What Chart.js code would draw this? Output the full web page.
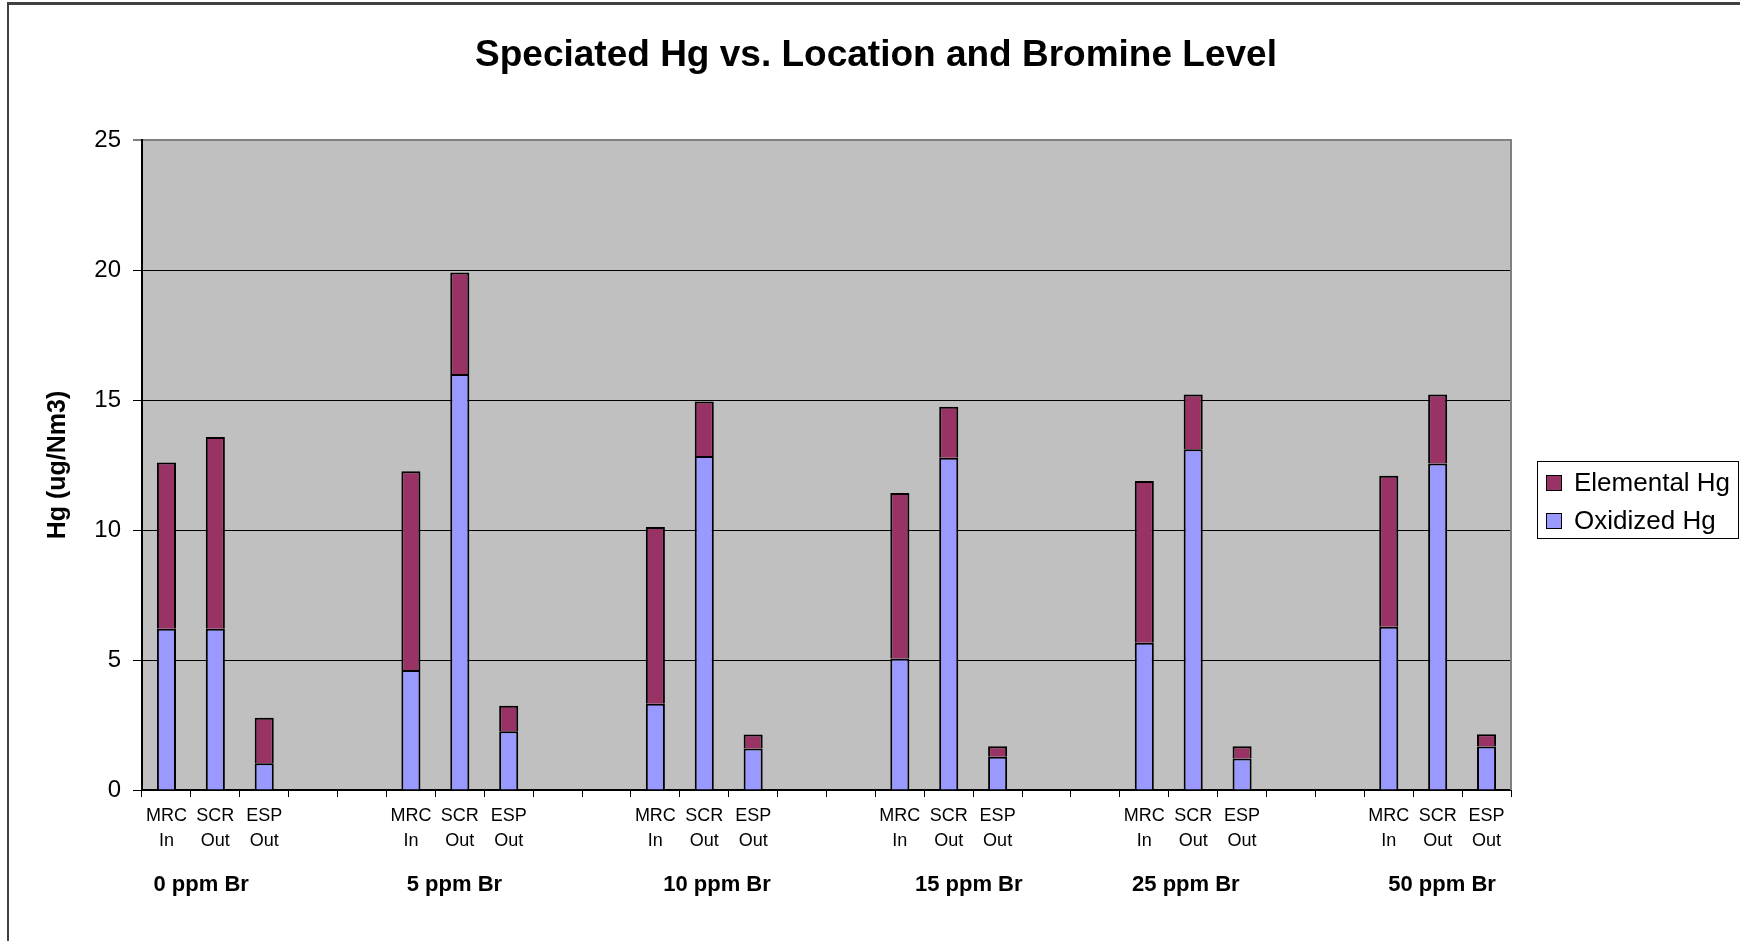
<!DOCTYPE html>
<html><head><meta charset="utf-8">
<script src="https://cdn.jsdelivr.net/npm/chart.js@4.4.0/dist/chart.umd.min.js"></script>
<style>html,body{margin:0;padding:0;background:#fff;} canvas{display:block;}</style>
</head><body>
<canvas id="c" width="1740" height="941"></canvas>
<script>
const chartTitle = "Speciated Hg vs. Location and Bromine Level";
const yAxisTitle = "Hg (ug/Nm3)";
const bromineLevels = ["0 ppm Br", "5 ppm Br", "10 ppm Br", "15 ppm Br", "25 ppm Br", "50 ppm Br"];
const locations = [["MRC", "In"], ["SCR", "Out"], ["ESP", "Out"]];
const seriesNames = ["Elemental Hg", "Oxidized Hg"];
const yTicks = [0, 5, 10, 15, 20, 25];
// values per bromine level: MRC In, SCR Out, ESP Out
const oxidizedHg = [6.2, 6.2, 1.03,  4.62, 16.0, 2.26,  3.32, 12.85, 1.60,  5.06, 12.78, 1.28,  5.66, 13.11, 1.21,  6.28, 12.56, 1.67];
const elementalHg = [6.4, 7.38, 1.75,  7.64, 3.9, 0.98,  6.8, 2.09, 0.53,  6.36, 1.96, 0.40,  6.22, 2.10, 0.47,  5.81, 2.65, 0.47];

const GAP = 2;
const labels = [], oxData = [], elData = [];
bromineLevels.forEach((lvl, g) => {
  locations.forEach((loc, i) => {
    labels.push(loc);
    oxData.push(oxidizedHg[g * 3 + i]);
    elData.push(elementalHg[g * 3 + i]);
  });
  if (g < bromineLevels.length - 1) {
    for (let k = 0; k < GAP; k++) { labels.push(""); oxData.push(null); elData.push(null); }
  }
});

const FONT = "'Liberation Sans', Arial, Helvetica, sans-serif";
const groupLabelPos = [0.71, 5.89, 11.26, 16.41, 20.85, 26.09];

const decor = {
  id: 'decor',
  beforeDraw(chart) {
    const { ctx, chartArea: a } = chart;
    ctx.save();
    ctx.fillStyle = '#fff';
    ctx.fillRect(0, 0, chart.width, chart.height);
    ctx.fillStyle = '#C0C0C0';
    ctx.fillRect(a.left, a.top, a.right - a.left, a.bottom - a.top);
    ctx.restore();
  },
  afterDraw(chart) {
    const { ctx, chartArea: a } = chart;
    const xs = chart.scales.x;
    ctx.save();
    ctx.strokeStyle = '#808080';
    ctx.lineWidth = 2;
    ctx.beginPath();
    ctx.moveTo(a.right, a.top - 1);
    ctx.lineTo(a.right, a.bottom);
    ctx.stroke();

    ctx.fillStyle = '#000';
    ctx.textAlign = 'center';
    ctx.textBaseline = 'middle';
    ctx.font = `bold 37px ${FONT}`;
    ctx.fillText(chartTitle, 876, 56);

    ctx.font = `bold 22px ${FONT}`;
    bromineLevels.forEach((t, i) => ctx.fillText(t, xs.getPixelForValue(groupLabelPos[i]), 885));

    // legend
    ctx.strokeStyle = '#000';
    ctx.lineWidth = 1;
    ctx.strokeRect(1537.5, 461.5, 201, 77);
    const dsByName = {};
    chart.data.datasets.forEach(d => dsByName[d.label] = d);
    ctx.textAlign = 'left';
    ctx.font = `26px ${FONT}`;
    seriesNames.forEach((n, i) => {
      const cy = 483 + i * 38;
      ctx.fillStyle = dsByName[n].backgroundColor;
      ctx.fillRect(1546, cy - 8, 16, 16);
      ctx.strokeRect(1546.5, cy - 7.5, 15, 15);
      ctx.fillStyle = '#000';
      ctx.fillText(n, 1574, cy + 1);
    });

    // outer border
    ctx.fillStyle = '#404040';
    ctx.fillRect(7, 2, chart.width - 7, 3);
    ctx.fillRect(7, 2, 2, chart.height - 2);
    ctx.restore();
  }
};

new Chart(document.getElementById('c'), {
  type: 'bar',
  data: {
    labels: labels,
    datasets: [
      { label: seriesNames[1], data: oxData, backgroundColor: '#9999FF', borderColor: '#000', borderWidth: 2, stack: 's' },
      { label: seriesNames[0], data: elData, backgroundColor: '#993366', borderColor: '#000', borderWidth: 2, stack: 's' }
    ]
  },
  options: {
    responsive: false,
    animation: false,
    devicePixelRatio: 1,
    categoryPercentage: 1,
    barPercentage: 0.39,
    layout: { padding: { top: 140, right: 229, left: 0, bottom: 0 } },
    plugins: { legend: { display: false }, tooltip: { enabled: false }, title: { display: false } },
    scales: {
      x: {
        stacked: true,
        ticks: { autoSkip: false, maxRotation: 0, minRotation: 0, font: { family: FONT, size: 18, lineHeight: '25px' }, color: '#000', padding: 7 },
        grid: { offset: true, drawOnChartArea: false, drawTicks: true, tickLength: 7, tickColor: '#000', color: '#000', tickWidth: 1 },
        border: { color: '#000', width: 2 },
        afterFit: s => { s.height = 151; }
      },
      y: {
        stacked: true,
        min: 0, max: 25,
        afterBuildTicks: s => { s.ticks = yTicks.map(v => ({ value: v })); },
        ticks: { font: { family: FONT, size: 24 }, color: '#000', padding: 12 },
        grid: {
          color: c => (c.tick && c.tick.value === 25) ? '#808080' : '#000',
          lineWidth: c => (c.tick && c.tick.value === 25) ? 2 : 1,
          tickLength: 9, tickColor: '#000', tickWidth: 1
        },
        border: { color: '#000', width: 2 },
        title: { display: true, text: yAxisTitle, color: '#000', font: { family: FONT, size: 25, weight: 'bold' }, padding: { top: 43, bottom: 0 } },
        afterFit: s => { s.width = 142; }
      }
    }
  },
  plugins: [decor]
});
</script>
</body></html>
